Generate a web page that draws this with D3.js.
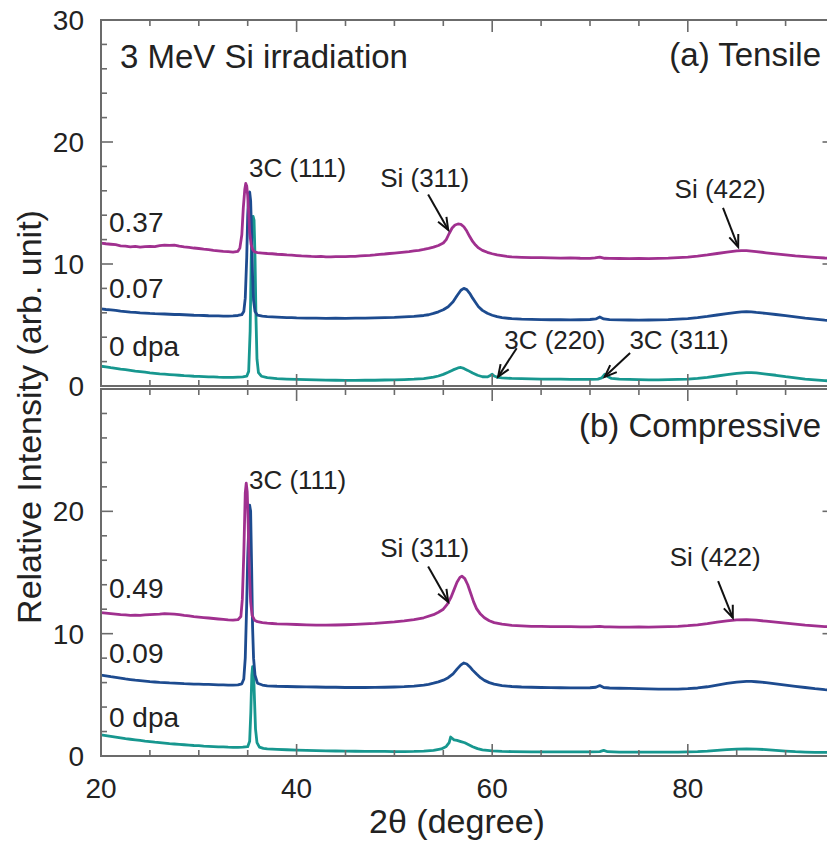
<!DOCTYPE html>
<html>
<head>
<meta charset="utf-8">
<script src="https://cdn.jsdelivr.net/npm/d3@7"></script>
<style>
  html, body { margin: 0; padding: 0; background: #fff; }
  svg { display: block; }
  text { font-family: "Liberation Sans", Arial, sans-serif; fill: #222; }
</style>
</head>
<body>
<svg id="chart" width="827" height="843"></svg>
<script>
// XRD patterns of 3C-SiC on Si after 3 MeV Si irradiation: [2θ (deg), relative intensity]

// (a) Tensile
const tensile0 = [
  [20,1.62],[20.5,1.56],[21,1.5],[21.5,1.45],[22,1.38],[22.5,1.34],[23,1.28],[23.5,1.22],[24,1.18],[24.5,1.13],
  [25,1.08],[25.5,1.04],[26,1.0],[26.5,0.97],[27,0.94],[27.5,0.91],[28,0.88],[28.5,0.85],[29,0.83],[29.5,0.8],
  [30,0.79],[30.5,0.77],[31,0.75],[31.5,0.74],[32,0.72],[32.5,0.71],[33,0.7],[33.5,0.7],[34,0.72],[34.5,0.74],
  [34.9,0.8],[35.1,1.2],[35.25,4.5],[35.35,10.0],[35.45,13.6],[35.55,13.9],[35.65,13.6],[35.75,10.5],[35.85,5.5],[35.95,2.2],
  [36.1,1.1],[36.4,0.8],[37,0.68],[37.5,0.64],[38,0.6],[39,0.57],[40,0.54],[41,0.52],[42,0.5],[43,0.48],
  [44,0.47],[45,0.46],[46,0.46],[47,0.47],[48,0.47],[49,0.49],[50,0.5],[51,0.53],[52,0.56],[53,0.61],
  [54,0.72],[54.5,0.82],[55,0.95],[55.5,1.12],[56,1.32],[56.5,1.48],[56.8,1.52],[57.1,1.44],[57.5,1.28],[58,1.06],
  [58.5,0.88],[59,0.76],[59.5,0.74],[59.8,0.86],[60,0.96],[60.2,0.82],[60.6,0.7],[61,0.66],[62,0.62],[63,0.6],
  [64,0.58],[65,0.57],[66,0.56],[67,0.56],[68,0.55],[69,0.55],[70,0.55],[70.8,0.56],[71.2,0.66],[71.5,0.96],
  [71.8,0.78],[72.2,0.62],[73,0.56],[74,0.54],[75,0.52],[76,0.51],[77,0.51],[78,0.52],[79,0.54],[80,0.56],
  [81,0.62],[82,0.7],[83,0.82],[84,0.94],[85,1.04],[86,1.1],[86.5,1.1],[87,1.07],[88,0.98],[89,0.88],
  [90,0.76],[91,0.66],[92,0.56],[93,0.5],[94,0.44],[95,0.4]
];
const tensile007 = [
  [20,6.32],[20.5,6.27],[21,6.24],[21.5,6.2],[22,6.14],[22.5,6.1],[23,6.06],[23.5,6.03],[24,6.0],[24.5,5.98],
  [25,5.95],[25.5,5.93],[26,5.92],[26.5,5.9],[27,5.88],[27.5,5.86],[28,5.86],[28.5,5.84],[29,5.82],[29.5,5.8],
  [30,5.79],[30.5,5.78],[31,5.76],[31.5,5.75],[32,5.74],[32.5,5.72],[33,5.72],[33.5,5.74],[34,5.78],[34.4,5.85],
  [34.6,6.1],[34.75,7.2],[34.9,10.5],[35.0,14.0],[35.1,15.7],[35.2,15.9],[35.3,15.2],[35.4,12.5],[35.5,9.0],[35.6,7.0],
  [35.75,6.1],[36,5.8],[36.5,5.72],[37,5.68],[37.5,5.66],[38,5.64],[38.5,5.62],[39,5.6],[39.5,5.6],[40,5.58],
  [41,5.57],[42,5.56],[43,5.55],[44,5.56],[45,5.55],[46,5.56],[47,5.57],[48,5.58],[49,5.6],[50,5.62],
  [51,5.66],[52,5.7],[53,5.78],[53.5,5.84],[54,5.95],[54.5,6.08],[55,6.25],[55.5,6.5],[56,6.9],[56.4,7.4],
  [56.8,7.85],[57.1,8.0],[57.4,7.9],[57.7,7.6],[58,7.2],[58.3,6.85],[58.6,6.5],[59,6.2],[59.5,5.96],[60,5.8],
  [60.5,5.68],[61,5.6],[62,5.52],[63,5.48],[64,5.46],[65,5.44],[66,5.43],[67,5.44],[68,5.42],[69,5.43],
  [70,5.45],[70.6,5.5],[71,5.66],[71.4,5.5],[72,5.44],[73,5.42],[74,5.41],[75,5.4],[76,5.41],[77,5.42],
  [78,5.44],[79,5.48],[80,5.53],[81,5.6],[82,5.7],[83,5.82],[84,5.94],[85,6.04],[85.5,6.08],[86,6.1],
  [86.5,6.08],[87,6.03],[88,5.95],[89,5.86],[90,5.76],[91,5.66],[92,5.56],[93,5.48],[94,5.4],[95,5.34]
];
const tensile037 = [
  [20,11.72],[20.5,11.66],[21,11.62],[21.5,11.58],[22,11.49],[22.5,11.46],[23,11.41],[23.5,11.44],[24,11.38],[24.5,11.42],
  [25,11.45],[25.5,11.43],[26,11.5],[26.5,11.54],[27,11.52],[27.5,11.55],[28,11.47],[28.5,11.41],[29,11.36],[29.5,11.31],
  [30,11.27],[30.5,11.22],[31,11.18],[31.5,11.12],[32,11.08],[32.5,11.04],[33,11.01],[33.5,10.98],[34,11.04],[34.2,11.3],
  [34.4,12.4],[34.55,14.6],[34.7,16.1],[34.8,16.6],[34.9,16.4],[35.0,15.6],[35.1,14.2],[35.2,12.6],[35.35,11.6],[35.5,11.2],
  [35.7,11.0],[36,10.94],[36.5,10.9],[37,10.86],[37.5,10.84],[38,10.8],[38.5,10.78],[39,10.74],[39.5,10.72],[40,10.69],
  [40.5,10.66],[41,10.65],[41.5,10.62],[42,10.6],[42.5,10.62],[43,10.59],[43.5,10.58],[44,10.6],[44.5,10.61],[45,10.6],
  [45.5,10.63],[46,10.62],[46.5,10.66],[47,10.68],[47.5,10.7],[48,10.74],[48.5,10.79],[49,10.82],[49.5,10.86],[50,10.9],
  [50.5,10.94],[51,10.98],[51.5,11.02],[52,11.07],[52.5,11.12],[53,11.19],[53.5,11.28],[54,11.38],[54.5,11.52],[55,11.72],
  [55.3,12.0],[55.6,12.5],[55.9,12.95],[56.2,13.2],[56.5,13.28],[56.8,13.25],[57.1,13.05],[57.4,12.7],[57.7,12.25],[58,11.85],
  [58.3,11.55],[58.6,11.32],[59,11.12],[59.5,10.96],[60,10.84],[60.5,10.74],[61,10.68],[61.5,10.62],[62,10.58],[63,10.55],
  [64,10.52],[65,10.52],[66,10.5],[67,10.48],[68,10.5],[69,10.47],[70,10.46],[70.5,10.5],[71,10.56],[71.5,10.47],
  [72,10.46],[73,10.45],[74,10.44],[75,10.45],[76,10.44],[77,10.46],[78,10.48],[79,10.52],[80,10.56],[81,10.64],
  [82,10.74],[83,10.86],[84,10.98],[85,11.07],[85.5,11.1],[86,11.09],[86.5,11.06],[87,11.02],[88,10.92],[89,10.83],
  [90,10.74],[91,10.66],[92,10.6],[93,10.54],[94,10.49],[95,10.46]
];

// (b) Compressive
const compressive0 = [
  [20,1.72],[20.5,1.66],[21,1.6],[21.5,1.54],[22,1.48],[22.5,1.42],[23,1.37],[23.5,1.32],[24,1.27],[24.5,1.22],
  [25,1.18],[25.5,1.13],[26,1.09],[26.5,1.05],[27,1.01],[27.5,0.98],[28,0.95],[28.5,0.92],[29,0.89],[29.5,0.86],
  [30,0.84],[30.5,0.81],[31,0.79],[31.5,0.77],[32,0.75],[32.5,0.74],[33,0.72],[33.5,0.71],[34,0.71],[34.5,0.72],
  [35.0,0.76],[35.2,1.2],[35.32,3.6],[35.42,6.6],[35.5,7.3],[35.6,6.9],[35.7,4.5],[35.8,2.2],[35.95,1.1],[36.2,0.72],
  [36.6,0.62],[37,0.58],[38,0.54],[39,0.51],[40,0.48],[41,0.46],[42,0.44],[43,0.42],[44,0.41],[45,0.4],
  [46,0.39],[47,0.38],[48,0.37],[49,0.37],[50,0.36],[51,0.36],[52,0.37],[53,0.4],[54,0.46],[54.8,0.58],
  [55.3,0.78],[55.6,1.1],[55.75,1.55],[55.9,1.45],[56.1,1.32],[56.4,1.28],[56.8,1.18],[57.2,1.08],[57.6,0.92],[58,0.76],
  [58.5,0.6],[59,0.5],[60,0.42],[61,0.38],[62,0.36],[64,0.34],[66,0.33],[68,0.33],[70,0.33],[71,0.36],
  [71.4,0.46],[71.8,0.35],[73,0.32],[75,0.31],[77,0.31],[79,0.32],[81,0.36],[82,0.4],[83,0.46],[84,0.52],
  [85,0.56],[86,0.58],[87,0.57],[88,0.52],[89,0.46],[90,0.4],[91,0.35],[92,0.32],[93,0.3],[94,0.3],[95,0.29]
];
const compressive009 = [
  [20,6.62],[20.5,6.55],[21,6.48],[21.5,6.42],[22,6.36],[22.5,6.3],[23,6.25],[23.5,6.2],[24,6.16],[24.5,6.12],
  [25,6.08],[25.5,6.05],[26,6.02],[26.5,6.0],[27,5.97],[27.5,5.95],[28,5.93],[28.5,5.91],[29,5.9],[29.5,5.88],
  [30,5.87],[30.5,5.86],[31,5.85],[31.5,5.84],[32,5.82],[32.5,5.81],[33,5.8],[33.5,5.8],[34,5.82],[34.4,5.9],
  [34.6,6.3],[34.75,8.0],[34.9,12.5],[35.0,16.2],[35.1,18.5],[35.2,20.5],[35.3,20.0],[35.4,15.5],[35.5,10.5],[35.6,8.0],
  [35.75,6.6],[36,5.95],[36.5,5.8],[37,5.74],[38,5.7],[39,5.68],[40,5.66],[41,5.65],[42,5.64],[43,5.62],
  [44,5.62],[45,5.6],[46,5.6],[47,5.6],[48,5.61],[49,5.62],[50,5.64],[51,5.67],[52,5.72],[53,5.8],
  [53.5,5.86],[54,5.95],[54.5,6.06],[55,6.2],[55.5,6.4],[56,6.72],[56.4,7.1],[56.8,7.45],[57.1,7.6],[57.4,7.52],
  [57.7,7.3],[58,7.02],[58.4,6.7],[58.8,6.4],[59.2,6.18],[59.7,6.0],[60.2,5.88],[61,5.76],[62,5.68],[63,5.64],
  [64,5.62],[65,5.6],[66,5.59],[67,5.58],[68,5.57],[69,5.57],[70,5.58],[70.6,5.62],[71,5.76],[71.4,5.6],
  [72,5.56],[73,5.54],[74,5.52],[75,5.5],[76,5.48],[77,5.46],[78,5.46],[79,5.47],[80,5.5],[81,5.56],
  [82,5.66],[83,5.8],[84,5.94],[85,6.04],[86,6.1],[86.5,6.1],[87,6.07],[88,6.0],[89,5.9],[90,5.8],
  [91,5.7],[92,5.6],[93,5.5],[94,5.42],[95,5.38]
];
const compressive049 = [
  [20,11.72],[20.5,11.68],[21,11.64],[21.5,11.6],[22,11.56],[22.5,11.54],[23,11.5],[23.5,11.52],[24,11.5],[24.5,11.53],
  [25,11.56],[25.5,11.58],[26,11.6],[26.5,11.64],[27,11.62],[27.5,11.6],[28,11.56],[28.5,11.5],[29,11.45],[29.5,11.4],
  [30,11.36],[30.5,11.32],[31,11.28],[31.5,11.24],[32,11.2],[32.5,11.16],[33,11.12],[33.5,11.1],[34,11.14],[34.3,11.4],
  [34.45,12.8],[34.6,16.5],[34.75,21.5],[34.85,22.3],[34.95,21.6],[35.05,19.0],[35.15,15.5],[35.3,12.6],[35.45,11.5],[35.7,11.1],
  [36,10.98],[36.5,10.9],[37,10.86],[37.5,10.83],[38,10.8],[39,10.78],[40,10.75],[41,10.72],[42,10.7],[43,10.7],
  [44,10.71],[45,10.73],[46,10.76],[47,10.8],[48,10.84],[49,10.9],[50,10.96],[51,11.04],[52,11.14],[53,11.3],
  [54,11.55],[54.5,11.75],[55,12.0],[55.4,12.4],[55.8,13.0],[56.1,13.6],[56.4,14.2],[56.7,14.6],[56.9,14.7],[57.2,14.5],
  [57.5,14.0],[57.8,13.3],[58.1,12.6],[58.4,12.05],[58.8,11.6],[59.2,11.3],[59.7,11.06],[60.2,10.9],[61,10.78],[62,10.68],
  [63,10.64],[64,10.6],[65,10.6],[66,10.58],[67,10.57],[68,10.57],[69,10.56],[70,10.56],[71,10.6],[71.5,10.56],
  [72,10.55],[73,10.54],[74,10.54],[75,10.55],[76,10.54],[77,10.55],[78,10.57],[79,10.6],[80,10.65],[81,10.72],
  [82,10.82],[83,10.94],[84,11.04],[85,11.12],[86,11.14],[87,11.1],[88,11.02],[89,10.94],[90,10.86],[91,10.78],
  [92,10.7],[93,10.64],[94,10.58],[95,10.54]
];

const tensileDoses = ["0 dpa", "0.07", "0.37"];
const compressiveDoses = ["0 dpa", "0.09", "0.49"];
const thetaTickLabels = [20, 40, 60, 80];
const intensityTickLabels = [0, 10, 20, 30];

// peak annotations: [text, 2θ, intensity] and arrows [from 2θ, from I, to 2θ, to I]
const tensileLabels = [["3C (111)", 40.1, 17.1], ["Si (311)", 53.1, 16.3], ["Si (422)", 83.3, 15.4],
                       ["3C (220)", 66.4, 3.0], ["3C (311)", 79.1, 3.0]];
const tensileArrows = [[53.45, 15.7, 55.5, 12.8], [83.6, 14.6, 85.15, 11.4],
                       [62.5, 3.1, 60.6, 0.75], [74.1, 2.7, 71.5, 0.75]];
const compressiveLabels = [["3C (111)", 40.1, 21.8], ["Si (311)", 53.1, 16.3], ["Si (422)", 82.8, 15.5]];
const compressiveArrows = [[53.45, 15.5, 55.5, 12.6], [83.1, 14.3, 84.6, 11.3]];

const colors = ["#17978f", "#1d4b8f", "#a0308f"];

const svg = d3.select("#chart");
const left = 101, right = 834.5;
const x = d3.scaleLinear().domain([20, 95]).range([left, right]);

const panels = [
  { top: 20, bottom: 386, series: [tensile0, tensile007, tensile037], doses: tensileDoses,
    doseY: [2.5, 7.2, 12.6], labels: tensileLabels, arrows: tensileArrows,
    name: "(a) Tensile", nameBase: 66, yLabels: [0, 10, 20, 30] },
  { top: 389, bottom: 756, series: [compressive0, compressive009, compressive049], doses: compressiveDoses,
    doseY: [2.4, 7.6, 12.9], labels: compressiveLabels, arrows: compressiveArrows,
    name: "(b) Compressive", nameBase: 437, yLabels: [0, 10, 20] }
];

const axisColor = "#6b6b6b";

panels.forEach((p, i) => {
  const y = d3.scaleLinear().domain([0, 30]).range([p.bottom, p.top]);
  const g = svg.append("g");

  const clipId = "clip" + i;
  svg.append("clipPath").attr("id", clipId).append("rect")
    .attr("x", left).attr("y", p.top).attr("width", right - left).attr("height", p.bottom - p.top);

  // data lines
  const line = d3.line().x(d => x(d[0])).y(d => y(d[1]));
  g.append("g").attr("clip-path", `url(#${clipId})`)
    .selectAll("path").data(p.series).join("path")
    .attr("d", line)
    .attr("fill", "none")
    .attr("stroke", (d, k) => colors[k])
    .attr("stroke-width", 2.8)
    .attr("stroke-linejoin", "round");

  // frame ticks (inward on all sides)
  const tk = g.append("g").attr("stroke", axisColor).attr("stroke-width", 1.6);
  const xMinor = d3.range(25, 95, 5);
  xMinor.forEach(v => {
    const len = thetaTickLabels.includes(v) ? 12 : 6;
    tk.append("line").attr("x1", x(v)).attr("x2", x(v)).attr("y1", p.bottom).attr("y2", p.bottom - len);
    tk.append("line").attr("x1", x(v)).attr("x2", x(v)).attr("y1", p.top).attr("y2", p.top + len);
  });
  d3.range(2, 30, 2).forEach(v => {
    const len = intensityTickLabels.includes(v) ? 12 : 6;
    tk.append("line").attr("x1", left).attr("x2", left + len).attr("y1", y(v)).attr("y2", y(v));
    tk.append("line").attr("x1", right).attr("x2", right - len).attr("y1", y(v)).attr("y2", y(v));
  });

  // frame
  g.append("rect").attr("x", left).attr("y", p.top)
    .attr("width", right - left).attr("height", p.bottom - p.top)
    .attr("fill", "none").attr("stroke", axisColor).attr("stroke-width", 2);

  // y tick labels
  g.selectAll("text.ytl").data(p.yLabels).join("text")
    .attr("class", "ytl")
    .attr("x", 84).attr("y", d => y(d)).attr("dy", "0.36em")
    .attr("text-anchor", "end").attr("font-size", 28)
    .text(d => d);

  // dose labels
  g.selectAll("text.dose").data(p.doses).join("text")
    .attr("class", "dose")
    .attr("x", x(20) + 8).attr("y", (d, k) => y(p.doseY[k]))
    .attr("font-size", 28)
    .text(d => d);

  // peak labels
  g.selectAll("text.peak").data(p.labels).join("text")
    .attr("class", "peak")
    .attr("x", d => x(d[1])).attr("y", d => y(d[2]))
    .attr("text-anchor", "middle").attr("font-size", 26)
    .text(d => d[0]);

  // arrows with open heads
  const ag = g.append("g").attr("stroke", "#111").attr("stroke-width", 2).attr("fill", "none");
  p.arrows.forEach(a => {
    const x1 = x(a[0]), y1 = y(a[1]), x2 = x(a[2]), y2 = y(a[3]);
    const ang = Math.atan2(y2 - y1, x2 - x1);
    const hl = 13, spread = 0.38;
    ag.append("line").attr("x1", x1).attr("y1", y1).attr("x2", x2).attr("y2", y2);
    ag.append("path").attr("d",
      `M${x2 - hl * Math.cos(ang - spread)},${y2 - hl * Math.sin(ang - spread)}` +
      `L${x2},${y2}` +
      `L${x2 - hl * Math.cos(ang + spread)},${y2 - hl * Math.sin(ang + spread)}`);
  });

  // panel name
  g.append("text").attr("x", 821).attr("y", p.nameBase)
    .attr("text-anchor", "end").attr("font-size", 33).text(p.name);
});

// overall title
svg.append("text").attr("x", 120).attr("y", 68).attr("font-size", 33).text("3 MeV Si irradiation");

// x tick labels
svg.selectAll("text.xtl").data(thetaTickLabels).join("text")
  .attr("class", "xtl")
  .attr("x", d => x(d)).attr("y", 798)
  .attr("text-anchor", "middle").attr("font-size", 28)
  .text(d => d);

// axis titles
svg.append("text").attr("x", 457).attr("y", 833)
  .attr("text-anchor", "middle").attr("font-size", 34).text("2θ (degree)");
svg.append("text")
  .attr("transform", "translate(41,417) rotate(-90)")
  .attr("text-anchor", "middle").attr("font-size", 34)
  .text("Relative Intensity (arb. unit)");
</script>
</body>
</html>
